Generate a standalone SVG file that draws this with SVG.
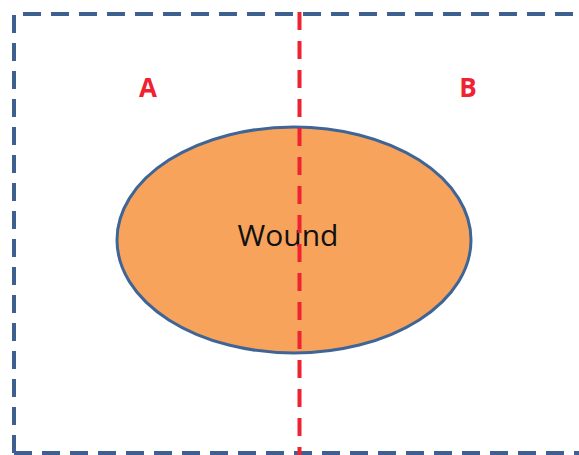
<svg xmlns="http://www.w3.org/2000/svg" width="579" height="455" viewBox="0 0 579 455">
<style>
.border{fill:none;stroke:#3D6090;stroke-width:4;stroke-dasharray:18 10}
.divider{fill:none;stroke:#EE2230;stroke-width:4;stroke-dasharray:18 11}
.lbl{font-family:"Open Sans","Liberation Sans",sans-serif;font-weight:bold;font-size:26px;fill:#EE2230;text-anchor:middle}
.wtxt{font-family:"Open Sans","Liberation Sans",sans-serif;font-size:30px;fill:#111111;text-anchor:middle}
</style>
<rect width="579" height="455" fill="#ffffff"/>
<g id="region">
<path class="border" d="M14 453 V14 H600"/>
<path class="border" d="M14 453 H600"/>
</g>
<g id="wound">
<ellipse cx="294" cy="240" rx="177" ry="113" fill="#F7A35C" stroke="#3F6597" stroke-width="3"/>
<text class="wtxt" x="288" y="246">Wound</text>
</g>
<g id="connectors">
<line class="divider" x1="299.5" y1="12" x2="299.5" y2="455"/>
</g>
<g id="labelA"><text class="lbl" x="148" y="97">A</text></g>
<g id="labelB"><text class="lbl" x="468" y="97">B</text></g>
</svg>
